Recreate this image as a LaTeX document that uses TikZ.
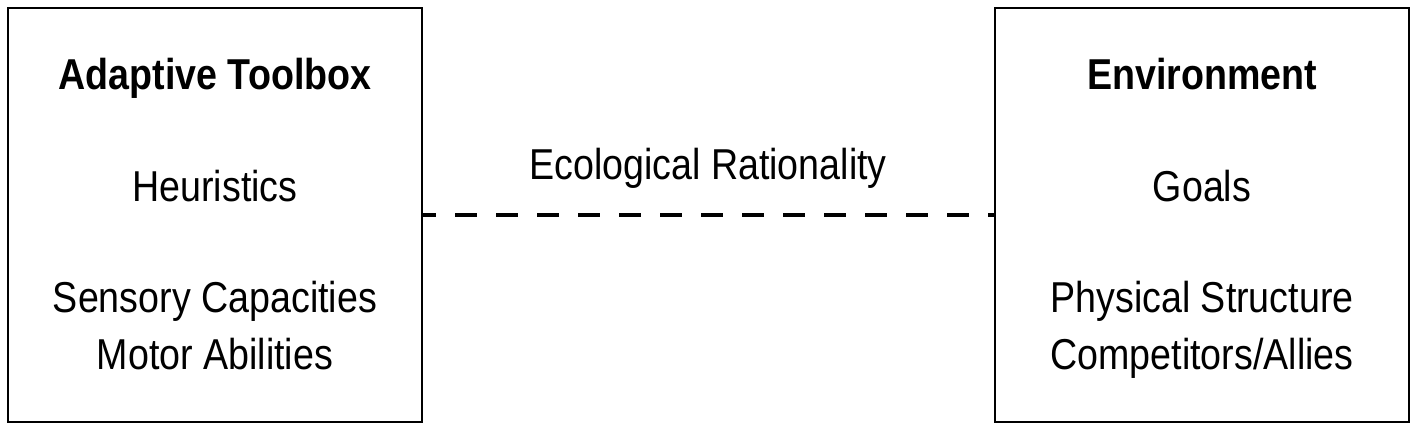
\documentclass[tikz,border=0pt]{standalone}
\usepackage{fontspec}
\setmainfont[FakeStretch=0.87]{Liberation Sans}
\begin{document}
\begin{tikzpicture}[x=0.1mm, y=-0.1mm,
		box/.style={draw, line width=0.7pt, minimum width=4.14cm, minimum height=4.14cm},
		txt/.style={anchor=base, font=\fontsize{12.3}{14}\selectfont},
		hdr/.style={txt, font=\fontsize{12.3}{14}\selectfont\bfseries}]
	\useasboundingbox (0,0) rectangle (1417,431);
	\node[box] (toolbox) at ( 215,215) {};
	\node[box] (environ) at (1202,215) {};
	\draw[line width=1.3pt, dash pattern=on 0.22cm off 0.19cm, dash phase=0.09cm] (toolbox.east) -- (environ.west);
	\node[txt] (rat) at (708,180) {Ecological Rationality};
	\node[hdr] (tbh) at ( 215, 90) {Adaptive Toolbox};
	\node[txt] (heu) at ( 215,202) {Heuristics};
	\node[txt] (sen) at ( 215,313) {Sensory Capacities};
	\node[txt] (mot) at ( 215,370) {Motor Abilities};
	\node[hdr] (evh) at (1202, 90) {Environment};
	\node[txt] (goa) at (1202,202) {Goals};
	\node[txt] (phy) at (1202,313) {Physical Structure};
	\node[txt] (com) at (1202,370) {Competitors/Allies};
\end{tikzpicture}
\end{document}
